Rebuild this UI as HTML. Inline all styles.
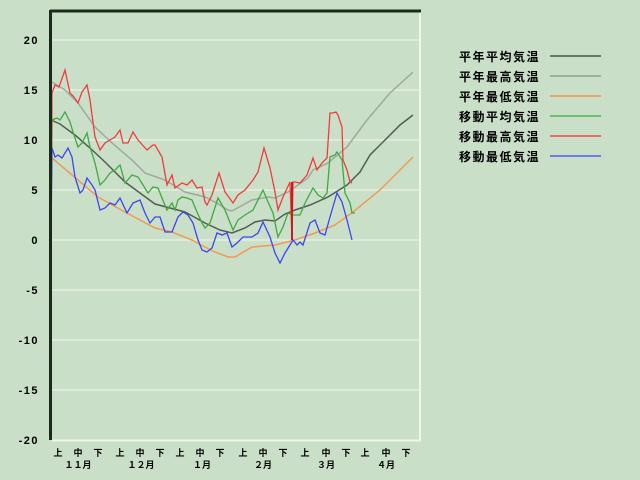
<!DOCTYPE html>
<html><head><meta charset="utf-8"><style>
html,body{margin:0;padding:0;background:#c9dfc8;}
svg{display:block;}
.yl{font-family:"Liberation Sans",sans-serif;font-weight:bold;font-size:11px;fill:#000;letter-spacing:1.5px;}
.xl{font-family:"Liberation Sans","Noto Sans CJK JP",sans-serif;font-weight:bold;font-size:9px;fill:#000;}
.lg{font-family:"Liberation Sans","Noto Sans CJK JP",sans-serif;font-weight:bold;font-size:12px;fill:#000;letter-spacing:1.5px;}
</style></head><body>
<svg width="640" height="480" viewBox="0 0 640 480" xmlns="http://www.w3.org/2000/svg">
<rect width="640" height="480" fill="#c9dfc8"/>
<!-- gridlines -->
<g stroke="#e6efe2" stroke-width="1.6">
<line x1="52" y1="40" x2="420" y2="40"/>
<line x1="52" y1="90" x2="420" y2="90"/>
<line x1="52" y1="140" x2="420" y2="140"/>
<line x1="52" y1="190" x2="420" y2="190"/>
<line x1="52" y1="240" x2="420" y2="240"/>
<line x1="52" y1="290" x2="420" y2="290"/>
<line x1="52" y1="340" x2="420" y2="340"/>
<line x1="52" y1="390" x2="420" y2="390"/>
<line x1="52" y1="440.5" x2="421" y2="440.5" stroke="#eef6ea" stroke-width="2"/>
<line x1="420" y1="12" x2="420" y2="441" stroke="#eef6ea" stroke-width="2"/>
</g>
<!-- normals -->
<polyline fill="none" stroke="#9ea99c" stroke-width="1.5" points="52,82 65,90 78,103 95,127 112,143 132,160 145,173 165,180 185,192 205,197 215,202 228,210 232,211 252,200 268,197 275,198 288,192 308,178 313,170 328,163 347,147 367,120 390,93 413,72"/>
<polyline fill="none" stroke="#525e52" stroke-width="1.5" points="51,120 60,124 75,135 90,148 105,162 125,182 140,193 155,204 170,208 185,212 205,223 220,230 232,233 245,228 255,222 265,220 275,221 285,214 295,210 310,205 328,197 347,185 360,172 370,155 385,140 400,125 413,115"/>
<polyline fill="none" stroke="#f09a55" stroke-width="1.5" points="52,158 78,180 98,197 125,212 155,228 172,232 192,240 205,247 215,252 228,257 235,257 252,247 275,245 295,240 315,233 335,225 353,212 380,190 413,157"/>
<!-- moving averages -->
<polyline fill="none" stroke="#3faa3f" stroke-width="1.3" points="51,240 52,120 57,118 60,120 65,112 70,122 73,132 78,147 82,143 87,133 90,147 95,163 100,185 105,180 110,173 115,170 120,165 125,183 132,175 138,177 143,185 148,193 153,187 158,188 162,198 167,210 172,203 175,210 178,200 182,197 187,198 192,200 197,212 202,223 205,228 210,223 218,198 225,210 233,230 238,220 245,215 253,210 263,190 268,202 273,213 278,237 283,227 288,213 293,215 300,215 305,203 313,188 318,195 323,198 327,193 330,157 335,155 337,152 342,160 345,193 350,203 352,213 355,213"/>
<polyline fill="none" stroke="#f03c3c" stroke-width="1.3" points="51,240 52,93 55,85 59,87 65,70 70,93 74,97 78,103 82,92 87,85 90,100 95,137 100,150 105,143 110,140 115,137 120,130 123,143 128,143 133,132 138,140 147,150 153,145 155,145 162,157 167,185 172,175 175,188 182,183 187,185 192,180 197,188 202,187 205,202 207,205 212,195 219,173 225,192 233,203 238,195 245,190 253,180 258,172 264,148 270,168 275,192 278,210 283,197 290,182 292,240 293,182 295,182 300,183 307,175 313,158 317,170 322,163 327,158 330,113 333,113 336,112 338,115 342,127 343,160 347,170 350,182 352,183"/>
<line x1="292" y1="182" x2="292" y2="240" stroke="#c02020" stroke-width="2"/>
<polyline fill="none" stroke="#3c46ee" stroke-width="1.3" points="51,240 52,148 55,157 58,155 62,158 68,148 72,157 75,177 80,193 83,190 87,178 92,185 95,190 100,210 105,208 110,203 115,205 120,198 127,213 133,203 140,200 145,213 150,223 155,217 160,217 165,232 172,232 178,217 183,212 188,215 193,223 198,240 202,250 207,252 212,248 217,233 222,235 227,233 232,247 237,243 243,237 252,237 258,233 263,222 270,237 275,253 280,263 285,253 290,245 293,240 297,245 300,242 303,245 310,223 315,220 320,233 325,235 330,217 337,193 342,202 347,220 352,240"/>
<!-- axes -->
<line x1="50" y1="11" x2="421" y2="11" stroke="#1c2a1c" stroke-width="3"/>
<line x1="50.5" y1="10" x2="50.5" y2="440" stroke="#1c2a1c" stroke-width="3"/>
<!-- y labels -->
<g class="yl" text-anchor="end">
<text x="39" y="44">20</text>
<text x="39" y="94">15</text>
<text x="39" y="144">10</text>
<text x="39" y="194">5</text>
<text x="39" y="244">0</text>
<text x="39" y="294">-5</text>
<text x="39" y="344">-10</text>
<text x="39" y="394">-15</text>
<text x="39" y="444">-20</text>
</g>
<!-- x labels -->
<g class="xl" text-anchor="middle">
<text x="58" y="456">上</text><text x="78" y="456">中</text><text x="98" y="456">下</text>
<text x="120" y="456">上</text><text x="140" y="456">中</text><text x="160" y="456">下</text>
<text x="180" y="456">上</text><text x="200" y="456">中</text><text x="220" y="456">下</text>
<text x="243" y="456">上</text><text x="263" y="456">中</text><text x="283" y="456">下</text>
<text x="305" y="456">上</text><text x="326" y="456">中</text><text x="346" y="456">下</text>
<text x="365" y="456">上</text><text x="386" y="456">中</text><text x="406" y="456">下</text>
<text x="78" y="468">１１月</text>
<text x="141" y="468">１２月</text>
<text x="202" y="468">１月</text>
<text x="263" y="468">２月</text>
<text x="326" y="468">３月</text>
<text x="386" y="468">４月</text>
</g>
<!-- legend -->
<g class="lg">
<text x="459" y="61">平年平均気温</text>
<text x="459" y="81">平年最高気温</text>
<text x="459" y="101">平年最低気温</text>
<text x="459" y="121">移動平均気温</text>
<text x="459" y="141">移動最高気温</text>
<text x="459" y="161">移動最低気温</text>
</g>
<g stroke-width="2">
<line x1="550" y1="56" x2="601" y2="56" stroke="#687868"/>
<line x1="550" y1="76" x2="601" y2="76" stroke="#a0ae9e"/>
<line x1="550" y1="96" x2="601" y2="96" stroke="#eaa566"/>
<line x1="550" y1="116" x2="601" y2="116" stroke="#6cc06c"/>
<line x1="550" y1="136" x2="601" y2="136" stroke="#e66e66"/>
<line x1="550" y1="156" x2="601" y2="156" stroke="#6c7ce4"/>
</g>
</svg>
</body></html>
